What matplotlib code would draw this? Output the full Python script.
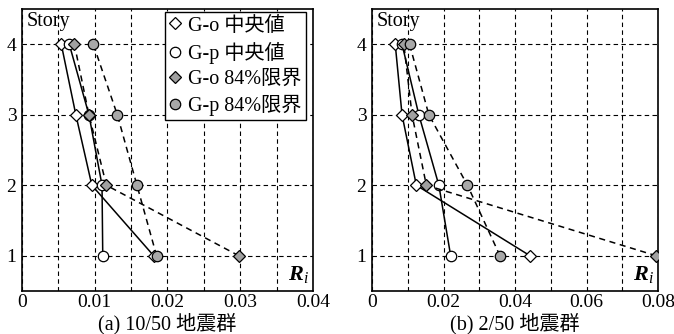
import matplotlib
matplotlib.use("Agg")
import matplotlib.pyplot as plt
from matplotlib.ticker import MultipleLocator, FixedLocator

plt.rcParams['font.family'] = ['Liberation Serif', 'Noto Sans CJK JP']
plt.rcParams['mathtext.fontset'] = 'custom'
plt.rcParams['mathtext.it'] = 'Liberation Serif:italic'
plt.rcParams['mathtext.bf'] = 'Liberation Serif:bold:italic'
plt.rcParams['mathtext.rm'] = 'Liberation Serif'

stories = [1, 2, 3, 4]
series_labels = ["G-o 中央値", "G-p 中央値", "G-o 84%限界", "G-p 84%限界"]

# Panel (a) 10/50
a_go_med = [0.0181, 0.0096, 0.0074, 0.0054]
a_gp_med = [0.0111, 0.0110, 0.0092, 0.0065]
a_go_84 = [0.0298, 0.0116, 0.0092, 0.0072]
a_gp_84 = [0.0185, 0.0158, 0.0131, 0.0098]

# Panel (b) 2/50
b_go_med = [0.0442, 0.0124, 0.0084, 0.0065]
b_gp_med = [0.0220, 0.0187, 0.0131, 0.0084]
b_go_84 = [0.0795, 0.0152, 0.0112, 0.0089]
b_gp_84 = [0.0358, 0.0267, 0.0159, 0.0105]

captions = ["(a) 10/50 地震群", "(b) 2/50 地震群"]
xlims = [0.04, 0.08]
xmajor = [0.01, 0.02]
xminor = [0.005, 0.01]

styles = [
    dict(marker='D', mfc='white', ls='-', ms=6.5),
    dict(marker='o', mfc='white', ls='-', ms=7.5),
    dict(marker='D', mfc='#a0a0a0', ls='--', ms=6.5),
    dict(marker='o', mfc='#a8a8a8', ls='--', ms=7.5),
]

fig = plt.figure(figsize=(6.74, 3.34), dpi=100)
ax1 = fig.add_axes([22/674, 43/334, (313-22)/674, (291-9)/334])
ax2 = fig.add_axes([372/674, 43/334, (658-372)/674, (291-9)/334])

data = [[a_go_med, a_gp_med, a_go_84, a_gp_84], [b_go_med, b_gp_med, b_go_84, b_gp_84]]

def fmt(v):
    if v == 0:
        return "0"
    return ("%.2f" % v)

for i, ax in enumerate([ax1, ax2]):
    for vals, st, lab in zip(data[i], styles, series_labels):
        ax.plot(vals, stories, color='black', lw=1.1, mec='black', mew=0.9,
                marker=st['marker'], mfc=st['mfc'], ls=st['ls'], ms=st['ms'],
                dashes=(4, 3) if st['ls'] == '--' else (None, None), label=lab, zorder=3)
    ax.set_xlim(0, xlims[i])
    ax.set_ylim(0.5, 4.5)
    ax.xaxis.set_major_locator(MultipleLocator(xmajor[i]))
    ax.xaxis.set_minor_locator(MultipleLocator(xminor[i]))
    ax.yaxis.set_major_locator(FixedLocator(stories))
    ticks = ax.get_xticks()
    ax.set_xticks(ticks)
    ax.set_xticklabels([fmt(t) for t in ticks])
    ax.set_xlim(0, xlims[i])
    ax.tick_params(axis='both', which='both', length=0, labelsize=14, pad=2)
    ax.tick_params(axis='y', pad=4)
    ax.grid(True, which='both', axis='x', color='black', lw=0.8, ls=(0, (4, 3)))
    ax.grid(True, which='major', axis='y', color='black', lw=0.8, ls=(0, (4, 3)))
    for sp in ax.spines.values():
        sp.set_linewidth(1.2)
    ax.text(0.015, 0.99, "Story", transform=ax.transAxes, ha='left', va='top', fontsize=14.5)
    ax.text(0.985, 0.02, r"$\mathbf{R}_i$", transform=ax.transAxes, ha='right', va='bottom', fontsize=16)
    bb = ax.get_position()
    fig.text((bb.x0 + bb.x1) / 2, 0, captions[i], ha='center', va='bottom', fontsize=14.5)
    if i == 0:
        leg_handles = []
        for st, lab in zip(styles, series_labels):
            hh, = ax.plot([], [], color='black', ls='none', marker=st['marker'], mfc=st['mfc'],
                          mec='black', mew=0.9, ms=st['ms'], label=lab)
            leg_handles.append(hh)
        leg = ax.legend(handles=leg_handles, loc='upper right', bbox_to_anchor=(0.975, 0.988),
                        borderaxespad=0, fontsize=14.5, frameon=True, fancybox=False,
                        edgecolor='black', framealpha=1, handlelength=0.6, handletextpad=0.35,
                        borderpad=0.2, labelspacing=0.3)
        leg.get_frame().set_linewidth(1.0)
        leg.set_zorder(5)

fig.savefig("out.png", dpi=100)
